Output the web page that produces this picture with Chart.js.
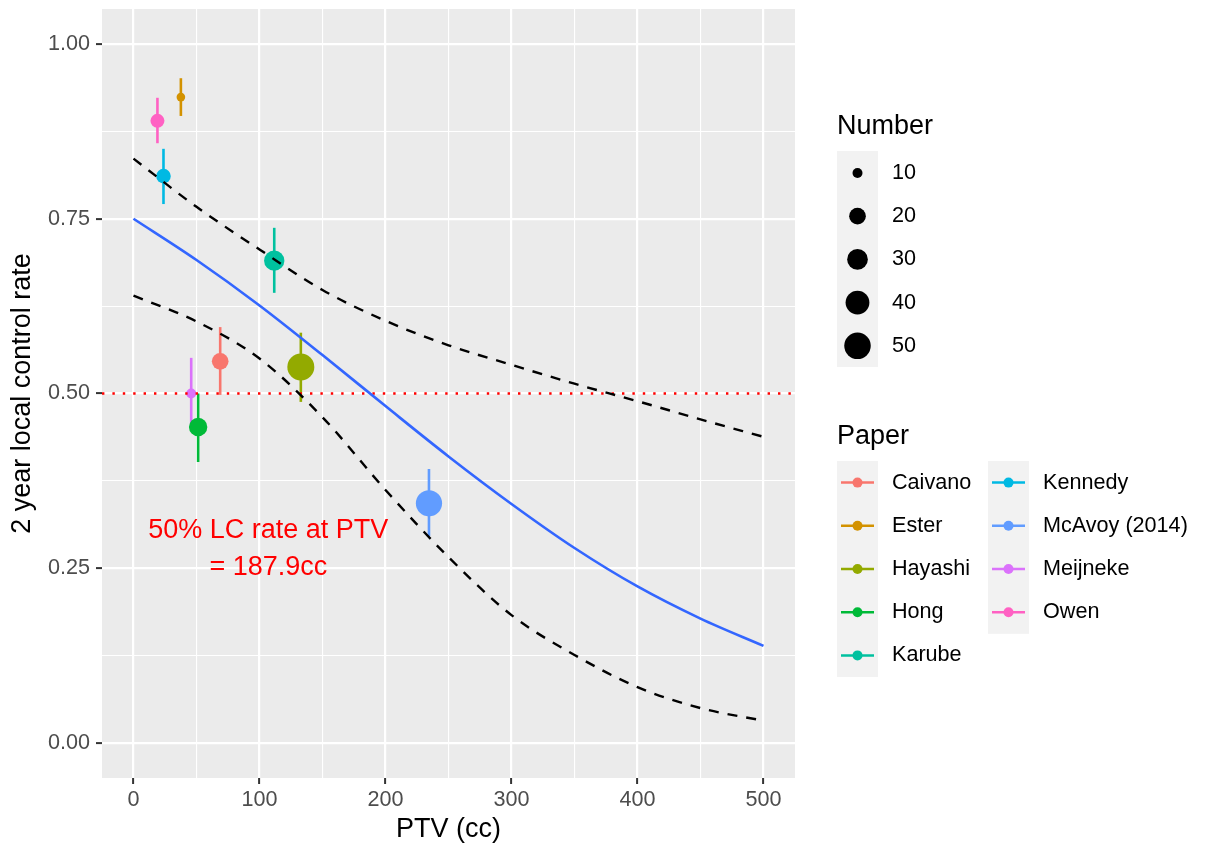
<!DOCTYPE html>
<html>
<head>
<meta charset="utf-8">
<title>PTV vs 2 year local control</title>
<script src="https://cdn.jsdelivr.net/npm/chart.js@4.4.1/dist/chart.umd.min.js"></script>
<style>
  html, body { margin: 0; padding: 0; background: #ffffff; }
  #wrap { width: 1210px; height: 846px; }
</style>
</head>
<body>
<div id="wrap"><canvas id="chart" width="1210" height="846"></canvas></div>
<script>
// Study level data
const papers = ['Caivano', 'Ester', 'Hayashi', 'Hong', 'Karube', 'Kennedy', 'McAvoy (2014)', 'Meijneke', 'Owen'];
const paperColors = ['#F8766D', '#D39200', '#93AA00', '#00BA38', '#00C19F', '#00B9E3', '#619CFF', '#DB72FB', '#FF61C3'];
const ptv = [68.8, 37.6, 132.8, 51.3, 111.7, 23.8, 234.5, 45.8, 19.0];
const lcRate = [0.546, 0.924, 0.538, 0.452, 0.690, 0.811, 0.343, 0.500, 0.890];
const lcLower = [0.498, 0.897, 0.488, 0.402, 0.644, 0.771, 0.296, 0.451, 0.858];
const lcUpper = [0.595, 0.951, 0.587, 0.500, 0.737, 0.850, 0.392, 0.551, 0.923];
const patients = [20, 9, 52, 24, 29, 16, 49, 10, 15];

// Logistic fit and its 95% band, read every 50 cc
const curvePtv = [0, 50, 100, 150, 200, 250, 300, 350, 400, 450, 500];
const fitRate = [0.750, 0.691, 0.626, 0.555, 0.482, 0.410, 0.342, 0.279, 0.224, 0.178, 0.139];
const bandUpper = [0.836, 0.767, 0.706, 0.648, 0.604, 0.569, 0.541, 0.514, 0.489, 0.463, 0.438];
const bandLower = [0.640, 0.603, 0.550, 0.466, 0.362, 0.266, 0.183, 0.126, 0.080, 0.050, 0.032];

const refRate = 0.5;
const annotText = ['50% LC rate at PTV', '= 187.9cc'];
const annotX = 107;
const annotY = 0.277;

// Axes
const xRange = [-25, 525];
const yRange = [-0.05, 1.05];
const xTicks = [0, 100, 200, 300, 400, 500];
const yTicks = [0, 0.25, 0.5, 0.75, 1];
const sizeBreaks = [10, 20, 30, 40, 50];
const sizeMin = 8, sizeMax = 52;

const FONT = '"Liberation Sans", Arial, Helvetica, sans-serif';
Chart.defaults.font.family = FONT;

// minor grid lines sit half way between the major ones
const withMinor = (ticks) => {
    const out = [];
    ticks.forEach((t, i) => {
        if (i > 0) out.push((ticks[i - 1] + t) / 2);
        out.push(t);
    });
    return out;
};

// ggplot style area scale for point sizes
function sizeRadius(n) {
    return (5.4 + 21.6 * Math.sqrt((n - sizeMin) / (sizeMax - sizeMin))) / 2;
}

const panelBg = {
    id: 'panelBg',
    beforeDraw(chart) {
        const { ctx, chartArea: a } = chart;
        ctx.save();
        ctx.fillStyle = '#EBEBEB';
        ctx.fillRect(a.left, a.top, a.right - a.left, a.bottom - a.top);
        ctx.restore();
    }
};

const annotation = {
    id: 'annotation',
    afterDatasetsDraw(chart) {
        const { ctx, scales } = chart;
        const cx = scales.x.getPixelForValue(annotX);
        const cy = scales.y.getPixelForValue(annotY);
        ctx.save();
        ctx.fillStyle = '#FF0000';
        ctx.font = `27px ${FONT}`;
        ctx.textAlign = 'center';
        ctx.textBaseline = 'middle';
        ctx.fillText(annotText[0], cx, cy - 18.5);
        ctx.fillText(annotText[1], cx, cy + 18.5);
        ctx.restore();
    }
};

const ggLegends = {
    id: 'ggLegends',
    afterDraw(chart) {
        const ctx = chart.ctx;
        const left = 837, keyW = 41, rowH = 43.2;
        ctx.save();
        ctx.textBaseline = 'middle';
        ctx.textAlign = 'left';

        // Number (size) legend
        ctx.fillStyle = '#000';
        ctx.font = `27px ${FONT}`;
        ctx.fillText('Number', left, 127);
        ctx.fillStyle = '#F2F2F2';
        ctx.fillRect(left, 151, keyW, rowH * sizeBreaks.length);
        ctx.font = `21.6px ${FONT}`;
        sizeBreaks.forEach((n, i) => {
            const cy = 173 + i * rowH;
            ctx.fillStyle = '#000';
            ctx.beginPath();
            ctx.arc(left + keyW / 2, cy, sizeRadius(n), 0, Math.PI * 2);
            ctx.fill();
            ctx.fillText(String(n), 892, cy);
        });

        // Paper (colour) legend, two columns of five
        ctx.font = `27px ${FONT}`;
        ctx.fillStyle = '#000';
        ctx.fillText('Paper', left, 437);
        const perCol = 5, colW = 151, top = 461;
        for (let c = 0; c * perCol < papers.length; c++) {
            const n = Math.min(perCol, papers.length - c * perCol);
            ctx.fillStyle = '#F2F2F2';
            ctx.fillRect(left + c * colW, top, keyW, rowH * n);
        }
        ctx.font = `21.6px ${FONT}`;
        papers.forEach((p, i) => {
            const kx = left + Math.floor(i / perCol) * colW;
            const cy = top + rowH / 2 + (i % perCol) * rowH;
            ctx.strokeStyle = paperColors[i];
            ctx.fillStyle = paperColors[i];
            ctx.lineWidth = 2.5;
            ctx.beginPath();
            ctx.moveTo(kx + 4, cy);
            ctx.lineTo(kx + keyW - 4, cy);
            ctx.stroke();
            ctx.beginPath();
            ctx.arc(kx + keyW / 2, cy, 5, 0, Math.PI * 2);
            ctx.fill();
            ctx.fillStyle = '#000';
            ctx.fillText(p, kx + 55, cy);
        });
        ctx.restore();
    }
};

const curve = (ys) => curvePtv.map((x, i) => ({ x, y: ys[i] }));

const datasets = [
    // confidence band
    { type: 'scatter', showLine: true, data: curve(bandUpper), borderColor: '#000', borderWidth: 2.4, borderDash: [10, 9], pointRadius: 0, cubicInterpolationMode: 'monotone', order: 0 },
    { type: 'scatter', showLine: true, data: curve(bandLower), borderColor: '#000', borderWidth: 2.4, borderDash: [10, 9], pointRadius: 0, cubicInterpolationMode: 'monotone', order: 0 },
    // logistic fit
    { type: 'scatter', showLine: true, data: curve(fitRate), borderColor: '#3366FF', borderWidth: 2.6, pointRadius: 0, cubicInterpolationMode: 'monotone', order: 1 },
    // 50% reference line
    { type: 'scatter', showLine: true, data: xRange.map(x => ({ x, y: refRate })), borderColor: '#FF0000', borderWidth: 2.4, borderDash: [2.4, 8], pointRadius: 0, order: 2 },
    // study points
    {
        type: 'scatter',
        data: ptv.map((x, i) => ({ x, y: lcRate[i] })),
        backgroundColor: paperColors,
        borderWidth: 0,
        pointRadius: patients.map(sizeRadius),
        order: 3
    },
    // error bars
    ...papers.map((p, i) => ({
        type: 'scatter', showLine: true,
        data: [{ x: ptv[i], y: lcLower[i] }, { x: ptv[i], y: lcUpper[i] }],
        borderColor: paperColors[i], borderWidth: 2.6, pointRadius: 0, order: 4
    }))
];

const gridOpts = (major) => ({
    color: '#FFFFFF',
    lineWidth: (c) => major.includes(c.tick.value) ? 2.2 : 1.1,
    tickColor: (c) => major.includes(c.tick.value) ? '#333333' : 'rgba(0,0,0,0)',
    tickWidth: 2,
    tickLength: 6,
    drawTicks: true
});

new Chart(document.getElementById('chart'), {
    type: 'scatter',
    data: { datasets },
    plugins: [panelBg, annotation, ggLegends],
    options: {
        responsive: false,
        animation: false,
        events: [],
        layout: { autoPadding: false, padding: { top: 9, right: 415, left: 0, bottom: 0 } },
        plugins: { legend: { display: false }, tooltip: { enabled: false } },
        scales: {
            x: {
                type: 'linear',
                min: xRange[0],
                max: xRange[1],
                afterBuildTicks: (axis) => { axis.ticks = withMinor(xTicks).map(value => ({ value })); },
                afterFit: (axis) => { axis.height = 68; axis.paddingLeft = 0; axis.paddingRight = 0; },
                grid: gridOpts(xTicks),
                border: { display: false },
                ticks: {
                    autoSkip: false,
                    maxRotation: 0,
                    padding: 3,
                    color: '#4D4D4D',
                    font: { size: 21.6 },
                    callback: (v) => xTicks.includes(v) ? String(v) : ''
                },
                title: { display: true, text: 'PTV (cc)', color: '#000', font: { size: 27 }, padding: { top: 0, bottom: 0 } }
            },
            y: {
                type: 'linear',
                min: yRange[0],
                max: yRange[1],
                afterBuildTicks: (axis) => { axis.ticks = withMinor(yTicks).map(value => ({ value })); },
                afterFit: (axis) => { axis.width = 102; axis.paddingTop = 0; axis.paddingBottom = 0; },
                grid: gridOpts(yTicks),
                border: { display: false },
                ticks: {
                    autoSkip: false,
                    padding: 6,
                    color: '#4D4D4D',
                    font: { size: 21.6 },
                    callback: (v) => yTicks.includes(v) ? v.toFixed(2) : ''
                },
                title: { display: true, text: '2 year local control rate', color: '#000', font: { size: 27 }, padding: { top: 6, bottom: 2 } }
            }
        }
    }
});
</script>
</body>
</html>
